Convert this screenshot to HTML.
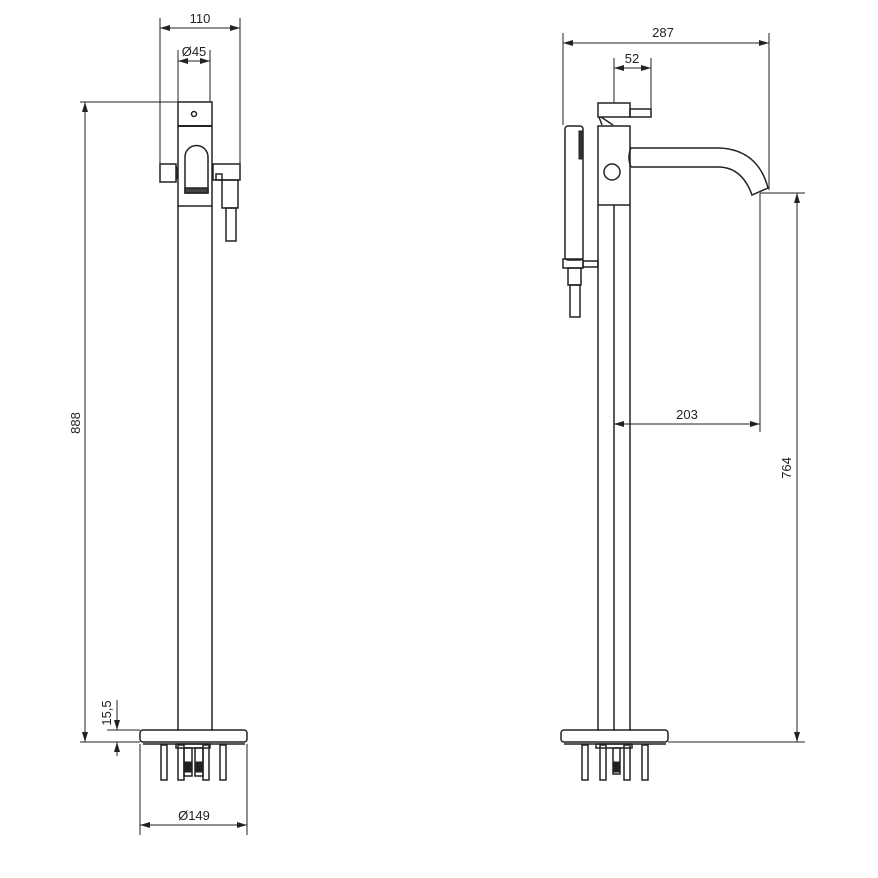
<!DOCTYPE html>
<html><head><style>body{margin:0;background:#fff}svg{display:block}text{font-family:"Liberation Sans",sans-serif;font-size:13px;fill:#222}</style></head>
<body>
<svg width="878" height="878" viewBox="0 0 878 878" xmlns="http://www.w3.org/2000/svg">
<defs>
<marker id="a" viewBox="0 0 10 6" refX="10" refY="3" markerWidth="10" markerHeight="6" orient="auto-start-reverse" markerUnits="userSpaceOnUse"><path d="M0,0L10,3L0,6z" fill="#222"/></marker>
</defs>
<g stroke="#222" stroke-width="1" fill="none">
<!-- LEFT VIEW -->
<line x1="160" y1="18" x2="160" y2="164"/><line x1="240" y1="18" x2="240" y2="164"/>
<line x1="160" y1="28" x2="240" y2="28" marker-start="url(#a)" marker-end="url(#a)"/>
<line x1="178" y1="50" x2="178" y2="102"/><line x1="210" y1="50" x2="210" y2="102"/>
<line x1="178" y1="61" x2="210" y2="61" marker-start="url(#a)" marker-end="url(#a)"/>
<line x1="80" y1="102" x2="178" y2="102"/><line x1="80" y1="742" x2="140" y2="742"/>
<line x1="85" y1="102" x2="85" y2="742" marker-start="url(#a)" marker-end="url(#a)"/>
<g stroke-width="1.5">
<rect x="178" y="102" width="34" height="104"/>
<line x1="178" y1="126" x2="212" y2="126" stroke-width="2"/>
<circle cx="194" cy="114" r="2.5"/>
<path d="M185,193V157a11.5,11.5 0 0 1 23,0V193Z"/>
<rect x="185" y="188" width="23" height="5" fill="#444"/>
<line x1="178" y1="206" x2="178" y2="731"/><line x1="212" y1="206" x2="212" y2="731"/>
<rect x="160" y="164" width="16" height="18"/><path d="M176,166q3,7 0,14"/>
<rect x="213" y="164" width="27" height="16"/><rect x="216" y="174" width="6" height="6"/>
<rect x="222" y="180" width="16" height="28"/><rect x="226" y="208" width="10" height="33"/>
<rect x="140" y="730" width="107" height="12" rx="3"/>
<line x1="143" y1="744" x2="245" y2="744"/>
<rect x="161" y="745" width="6" height="35"/><rect x="178" y="745" width="6" height="35"/>
<rect x="203" y="745" width="6" height="35"/><rect x="220" y="745" width="6" height="35"/>
<rect x="176" y="744" width="34" height="4"/>
<rect x="184" y="748" width="8" height="28"/><rect x="195" y="748" width="8" height="28"/>
</g>
<rect x="184" y="762" width="8" height="10" fill="#222"/><rect x="195" y="762" width="8" height="10" fill="#222"/>
<line x1="107" y1="730" x2="140" y2="730"/>
<line x1="117" y1="700" x2="117" y2="730" marker-end="url(#a)"/>
<line x1="117" y1="756" x2="117" y2="742" marker-end="url(#a)"/>
<line x1="140" y1="744" x2="140" y2="835"/><line x1="247" y1="744" x2="247" y2="835"/>
<line x1="140" y1="825" x2="247" y2="825" marker-start="url(#a)" marker-end="url(#a)"/>
<!-- RIGHT VIEW -->
<line x1="563" y1="33" x2="563" y2="125"/><line x1="769" y1="33" x2="769" y2="190"/>
<line x1="563" y1="43" x2="769" y2="43" marker-start="url(#a)" marker-end="url(#a)"/>
<line x1="614" y1="58" x2="614" y2="103"/><line x1="651" y1="58" x2="651" y2="117"/>
<line x1="614" y1="68" x2="651" y2="68" marker-start="url(#a)" marker-end="url(#a)"/>
<g stroke-width="1.5">
<rect x="598" y="103" width="32" height="14"/>
<path d="M599,117l3,8M601,117l12,8"/>
<rect x="630" y="109" width="21" height="8"/>
<rect x="598" y="126" width="32" height="79"/>
<circle cx="612" cy="172" r="8"/>
<path d="M630,148H720Q758,150 768,188L752,195Q742,167 718,167H631"/>
<path d="M631,148q-4,9 0,19"/>
<line x1="598" y1="205" x2="598" y2="731"/><line x1="614" y1="205" x2="614" y2="731"/><line x1="630" y1="205" x2="630" y2="731"/>
<rect x="565" y="126" width="18" height="134" rx="3"/>
<rect x="563" y="259" width="20" height="9"/><rect x="583" y="261" width="15" height="6"/>
<rect x="568" y="268" width="13" height="17"/><rect x="570" y="285" width="10" height="32"/>
<rect x="561" y="730" width="107" height="12" rx="3"/>
<line x1="564" y1="744" x2="666" y2="744"/>
<rect x="582" y="745" width="6" height="35"/><rect x="600" y="745" width="6" height="35"/>
<rect x="624" y="745" width="6" height="35"/><rect x="642" y="745" width="6" height="35"/>
<rect x="596" y="744" width="36" height="4"/>
<rect x="613" y="748" width="7" height="26"/>
</g>
<rect x="579" y="131" width="4" height="28" fill="#333"/>
<rect x="613" y="762" width="7" height="10" fill="#222"/>
<line x1="760" y1="193" x2="805" y2="193"/><line x1="760" y1="193" x2="760" y2="432"/>
<line x1="614" y1="205" x2="614" y2="432"/>
<line x1="614" y1="424" x2="760" y2="424" marker-start="url(#a)" marker-end="url(#a)"/>
<line x1="668" y1="742" x2="805" y2="742"/>
<line x1="797" y1="193" x2="797" y2="742" marker-start="url(#a)" marker-end="url(#a)"/>
</g>
<text x="200" y="23" text-anchor="middle">110</text>
<text x="194" y="56" text-anchor="middle">Ø45</text>
<text x="0" y="0" transform="translate(80,423) rotate(-90)" text-anchor="middle">888</text>
<text x="0" y="0" transform="translate(111,713) rotate(-90)" text-anchor="middle">15,5</text>
<text x="194" y="820" text-anchor="middle">Ø149</text>
<text x="663" y="37" text-anchor="middle">287</text>
<text x="632" y="63" text-anchor="middle">52</text>
<text x="687" y="419" text-anchor="middle">203</text>
<text x="0" y="0" transform="translate(791,468) rotate(-90)" text-anchor="middle">764</text>
</svg>
</body></html>
